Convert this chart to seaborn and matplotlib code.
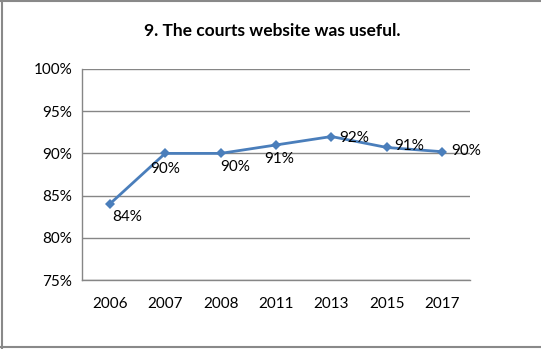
import matplotlib
matplotlib.use("Agg")
import matplotlib.pyplot as plt
from matplotlib.lines import Line2D
from matplotlib.ticker import FixedLocator, FuncFormatter
import seaborn as sns
import pandas as pd

# ---- data ----
years = ["2006", "2007", "2008", "2011", "2013", "2015", "2017"]
values = [84.0, 90.0, 90.0, 91.0, 92.0, 90.7, 90.2]
labels = ["84%", "90%", "90%", "91%", "92%", "91%", "90%"]
yticks = [75, 80, 85, 90, 95, 100]
title = "9. The courts website was useful."

# label offsets in pixels (style)
label_offsets = [(17, -13), (0, -16), (15, -14), (3, -14), (23, -1), (22, 1), (24, 1)]

sns.set_theme(style="white")
plt.rcParams['font.family'] = ['Lato', 'DejaVu Sans']

W, H = 541, 349
fig = plt.figure(figsize=(W / 100, H / 100), dpi=100)
ax = fig.add_axes([82 / W, 1 - 280 / H, 388 / W, 211 / H])

df = pd.DataFrame({"year": years, "value": values})
line_color = "#4A7EBB"
sns.lineplot(data=df, x="year", y="value", sort=False, ax=ax, color=line_color,
             linewidth=2, marker="D", markersize=5, markeredgewidth=0,
             markerfacecolor=line_color)

ax.set_xlim(-0.5, len(years) - 0.5)
ax.set_ylim(75, 100)
ax.yaxis.set_major_locator(FixedLocator(yticks))
ax.yaxis.set_major_formatter(FuncFormatter(lambda v, p: f"{int(v)}%"))
ax.grid(axis="y", color="#868686", linewidth=1)
ax.set_axisbelow(True)

# category boundaries as tick marks
ax.set_xticks(range(len(years)))
ax.set_xticklabels(years, fontsize=11, color="black")
ax.xaxis.set_minor_locator(FixedLocator([i - 0.5 for i in range(len(years) + 1)]))
ax.tick_params(axis="x", which="major", length=0, pad=12)
ax.tick_params(axis="x", which="minor", length=5, width=1, color="#868686", direction="out")
ax.tick_params(axis="y", which="major", length=4, width=1, color="#868686",
               direction="out", labelsize=11, labelcolor="black", pad=3)

for side in ["top", "right"]:
    ax.spines[side].set_visible(False)
for side in ["left", "bottom"]:
    ax.spines[side].set_color("#868686")
    ax.spines[side].set_linewidth(1)

ax.set_xlabel("")
ax.set_ylabel("")

for i, (v, lab) in enumerate(zip(values, labels)):
    dx, dy = label_offsets[i]
    ax.annotate(lab, (i, v), xytext=(dx, dy), textcoords="offset pixels",
                ha="center", va="center", fontsize=11, color="black")

fig.text(272 / W, 1 - 31 / H, title, ha="center", va="center",
         fontsize=12.5, fontweight="bold", color="black")

# outer frame (top, left, bottom)
border = "#898989"
fig.add_artist(Line2D([0, 1], [1 - 1 / H, 1 - 1 / H], transform=fig.transFigure, color=border, linewidth=1.5))
fig.add_artist(Line2D([1.5 / W, 1.5 / W], [0, 1], transform=fig.transFigure, color=border, linewidth=1.5))
fig.add_artist(Line2D([0, 1], [1 - 347 / H, 1 - 347 / H], transform=fig.transFigure, color=border, linewidth=1.5))

fig.savefig("out.png", dpi=100, facecolor="white")
